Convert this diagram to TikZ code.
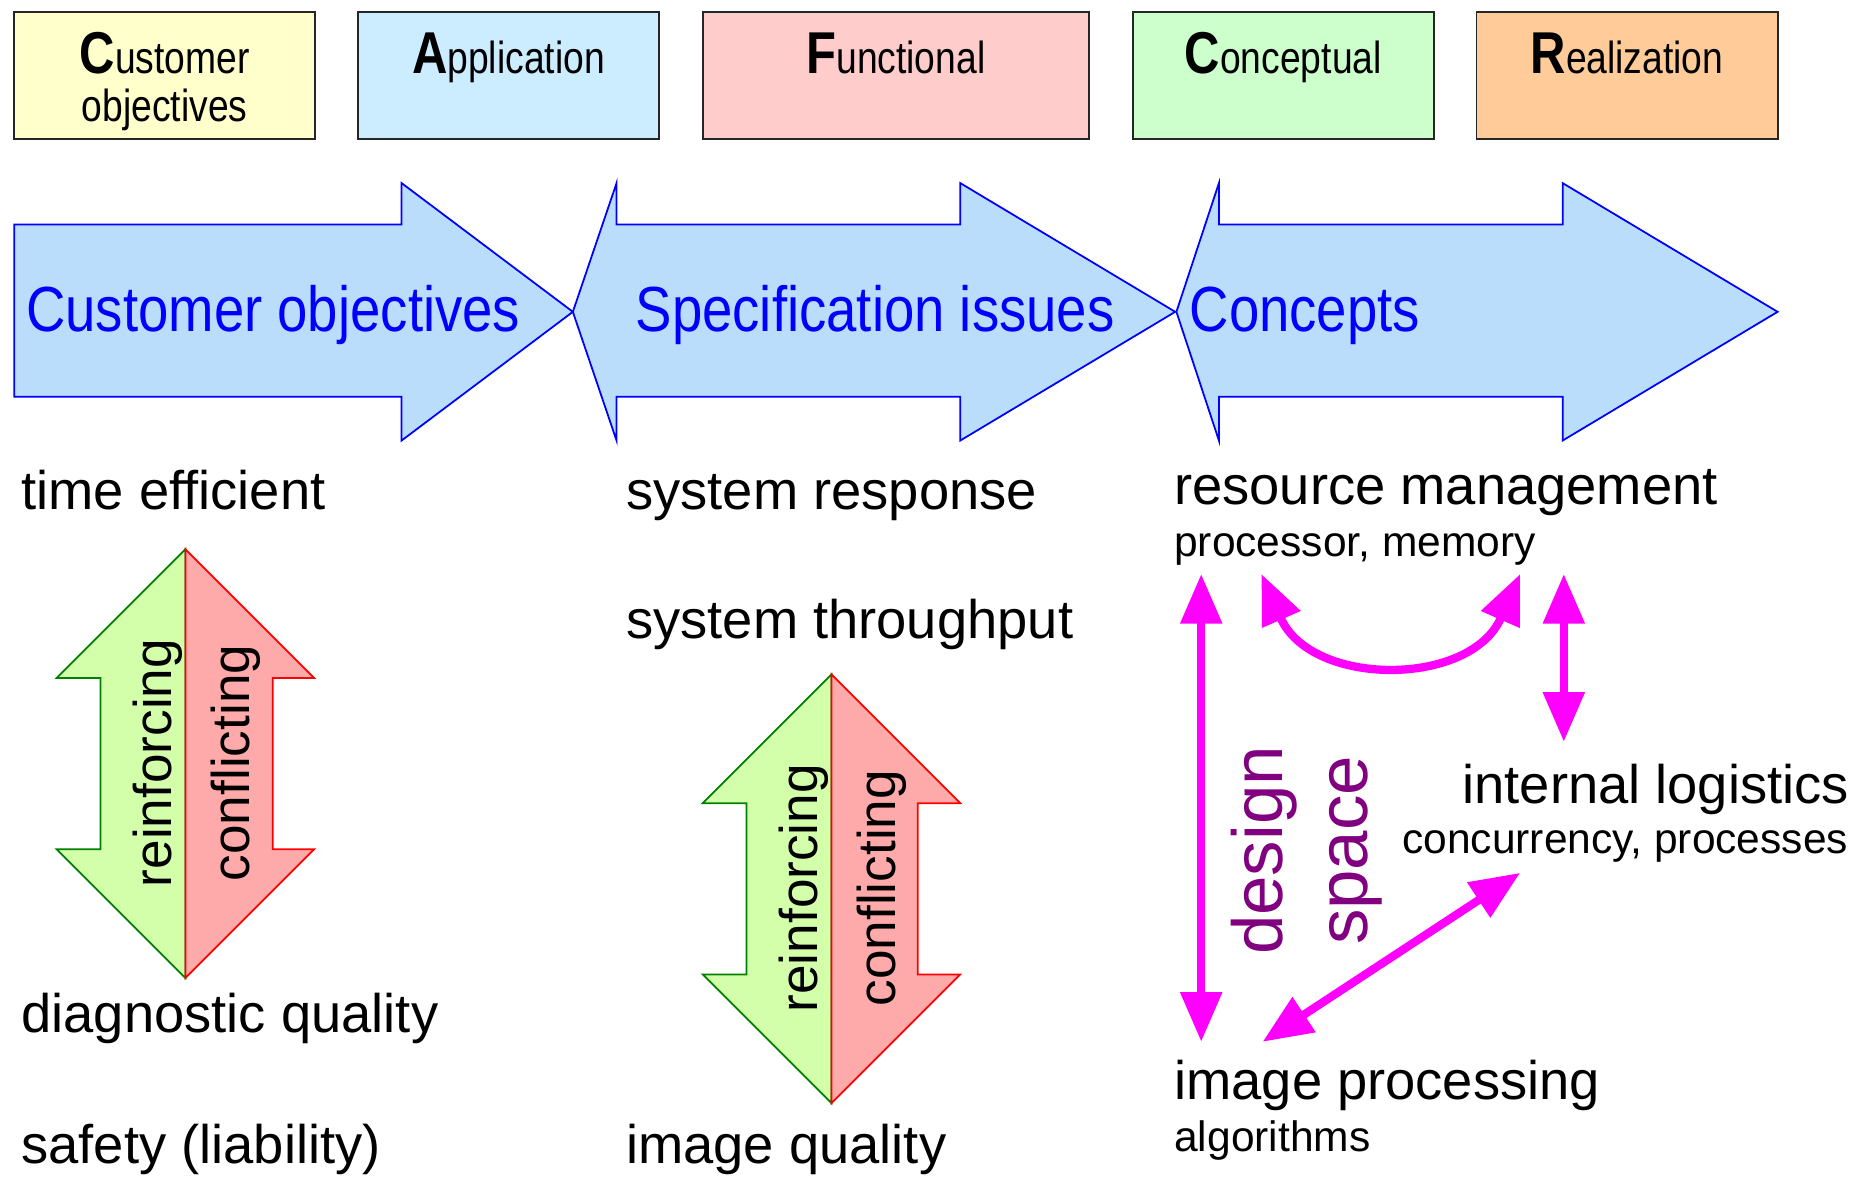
\documentclass[tikz,border=0pt]{standalone}
\usepackage{fontspec}
\setmainfont{Liberation Sans}
\newfontfamily\boxfont{Liberation Sans}[FakeStretch=0.83]
\newfontfamily\bluefont{Liberation Sans}[FakeStretch=0.855]
\usetikzlibrary{arrows.meta}
\definecolor{cyellow}{HTML}{FFFFCC}
\definecolor{cblue}{HTML}{CCECFF}
\definecolor{cpink}{HTML}{FFCCCC}
\definecolor{cgreen}{HTML}{CCFFCC}
\definecolor{corange}{HTML}{FFCC99}
\definecolor{arrowblue}{HTML}{BBDDFC}
\definecolor{lgreen}{HTML}{D4FFAA}
\definecolor{lred}{HTML}{FFAAAA}
\definecolor{dgreen}{HTML}{008000}
\definecolor{purp}{HTML}{800080}
\definecolor{mag}{HTML}{FF00FF}
\tikzset{
  hdr/.style={draw=black!85, line width=1.5pt, minimum height=108pt, inner sep=0pt},
  hdrtxt/.style={anchor=base, inner sep=0pt, font=\boxfont\fontsize{38}{40}\selectfont},
  bigarrow/.style={draw=blue, fill=arrowblue, line width=1.5pt, line join=miter},
  bluetxt/.style={anchor=base west, inner sep=0pt, text=blue, font=\bluefont\fontsize{54}{56}\selectfont},
  bodytxt/.style={anchor=base west, inner sep=0pt, font=\fontsize{46}{50}\selectfont},
  smalltxt/.style={anchor=base west, inner sep=0pt, font=\fontsize{36}{40}\selectfont},
  greenhalf/.style={fill=lgreen, draw=dgreen, line width=1.5pt, line join=miter},
  redhalf/.style={fill=lred, draw=red, line width=1.5pt, line join=miter},
  rottxt/.style={rotate=90, anchor=base, inner sep=0pt, font=\fontsize{45}{48}\selectfont},
  dstxt/.style={rotate=90, anchor=base, inner sep=0pt, text=purp, font=\fontsize{60}{64}\selectfont},
  magarrow/.style={draw=mag, line width=7pt, {Triangle[length=42pt,width=34pt]}-{Triangle[length=42pt,width=34pt]}},
}
\newcommand{\BigL}[1]{{\fontsize{50}{50}\selectfont\bfseries #1}}
\begin{document}
\begin{tikzpicture}[x=1pt,y=-1pt]
\useasboundingbox (0,0) rectangle (1568,996);
% header boxes
\node[hdr, fill=cyellow, minimum width=255pt] (b1) at (139.5,64) {};
\node[hdr, fill=cblue, minimum width=255pt] (b2) at (430.5,64) {};
\node[hdr, fill=cpink, minimum width=327pt] (b3) at (758.5,64) {};
\node[hdr, fill=cgreen, minimum width=255pt] (b4) at (1086.5,64) {};
\node[hdr, fill=corange, minimum width=255pt] (b5) at (1377.5,64) {};
\node[hdrtxt] (l1) at (139.5,62) {\BigL{C}ustomer};
\node[hdrtxt] (l1b) at (139.5,103) {objectives};
\node[hdrtxt] (l2) at (430.5,62) {\BigL{A}pplication};
\node[hdrtxt] (l3) at (758.5,62) {\BigL{F}unctional};
\node[hdrtxt] (l4) at (1086.5,62) {\BigL{C}onceptual};
\node[hdrtxt] (l5) at (1377.5,62) {\BigL{R}ealization};
% big blue arrows
\draw[bigarrow] (12,190) -- (340,190) -- (340,155) -- (485,264) -- (340,373) -- (340,336) -- (12,336) -- cycle;
\draw[bigarrow] (485,264) -- (522,155) -- (522,190) -- (813,190) -- (813,155) -- (995,264) -- (813,373) -- (813,336) -- (522,336) -- (522,373) -- cycle;
\draw[bigarrow] (996,264) -- (1032,155) -- (1032,190) -- (1323,190) -- (1323,155) -- (1505,264) -- (1323,373) -- (1323,336) -- (1032,336) -- (1032,373) -- cycle;
\node[bluetxt] (a1) at (22,281) {Customer objectives};
\node[bluetxt] (a2) at (538,281) {Specification issues};
\node[bluetxt] (a3) at (1007,281) {Concepts};
% left column
\node[bodytxt] (te) at (18,431) {time efficient};
\node[bodytxt] (dq) at (18,874) {diagnostic quality};
\node[bodytxt] (sl) at (18,985) {safety (liability)};
% middle column
\node[bodytxt] (sr) at (530,431) {system response};
\node[bodytxt] (st) at (530,541) {system throughput};
\node[bodytxt] (iq) at (530,985) {image quality};
% right column
\node[bodytxt] (rm) at (994,427) {resource management};
\node[smalltxt] (pm) at (994,471) {processor, memory};
\node[bodytxt] (il) at (1238,680) {internal logistics};
\node[smalltxt] (cp) at (1187,723) {concurrency, processes};
\node[bodytxt] (ip) at (994,931) {image processing};
\node[smalltxt] (al) at (994,975) {algorithms};
% double arrow 1
\filldraw[greenhalf] (157,465) -- (48,574) -- (85,574) -- (85,719) -- (48,719) -- (157,828) -- cycle;
\filldraw[redhalf] (157,465) -- (266,574) -- (231,574) -- (231,719) -- (266,719) -- (157,828) -- cycle;
\node[rottxt] (r1) at (145,646) {reinforcing};
\node[rottxt] (c1) at (211,646) {conflicting};
% double arrow 2
\filldraw[greenhalf] (704,571) -- (595,680) -- (632,680) -- (632,825) -- (595,825) -- (704,934) -- cycle;
\filldraw[redhalf] (704,571) -- (813,680) -- (777,680) -- (777,825) -- (813,825) -- (704,934) -- cycle;
\node[rottxt] (r2) at (692,752) {reinforcing};
\node[rottxt] (c2) at (758,752) {conflicting};
% design space
\node[dstxt] (ds1) at (1086,720) {design};
\node[dstxt] (ds2) at (1158,720) {space};
% magenta arrows
\coordinate (vT) at (1017,486);
\coordinate (vB) at (1017,882);
\coordinate (cL) at (1068,486);
\coordinate (cR) at (1287,486);
\coordinate (sT) at (1324,486);
\coordinate (sB) at (1324,628);
\coordinate (dT) at (1287,739);
\coordinate (dB) at (1069,882);
\draw[magarrow] (vT) -- (vB);
\draw[magarrow] (cL) .. controls (1110,582) and (1245,582) .. (cR);
\draw[magarrow] (sT) -- (sB);
\draw[magarrow] (dT) -- (dB);
\end{tikzpicture}
\end{document}
